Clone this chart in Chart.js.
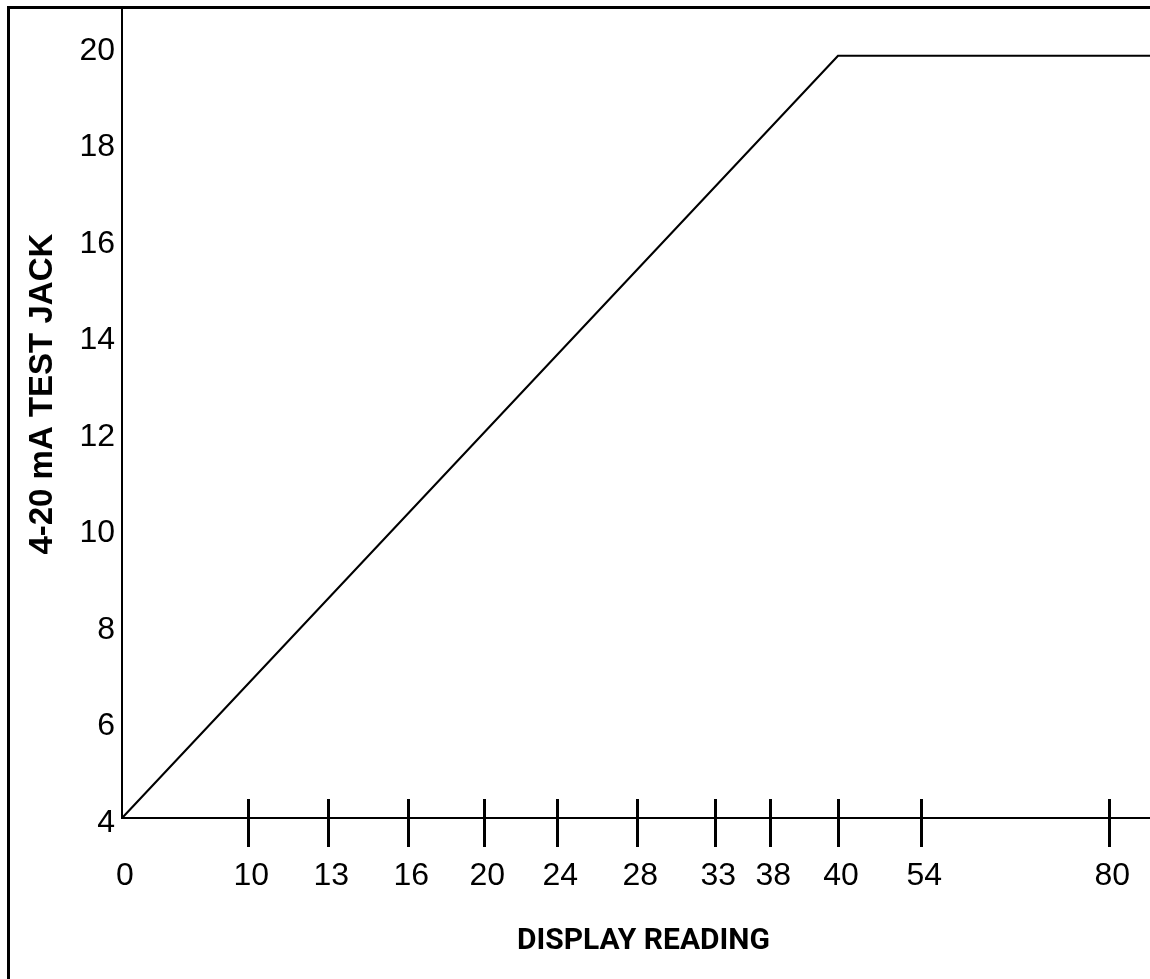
<!DOCTYPE html>
<html>
<head>
<meta charset="utf-8">
<title>4-20 mA test jack vs display reading</title>
<script src="https://cdn.jsdelivr.net/npm/chart.js@4"></script>
<style>
  html, body { margin: 0; padding: 0; background: #fff; overflow: hidden; }
  #wrap { position: relative; width: 1150px; height: 979px; overflow: hidden; }
  #chart { display: block; }
  /* frame round the figure, only left and top edges show */
  #frame { position: absolute; left: 7px; top: 6px; width: 2000px; height: 2000px;
           border-left: 3px solid #000; border-top: 3px solid #000; pointer-events: none; }
</style>
</head>
<body>
<div id="wrap">
  <canvas id="chart" width="1150" height="979"></canvas>
  <div id="frame"></div>
</div>
<script>
// display readings printed under the ticks, and where each tick sits
// along the (uneven) printed axis, which runs 0 .. axisEnd
const tickLabels = ['0', '10', '13', '16', '20', '24', '28', '33', '38', '40', '54', '80'];
const tickAt = [0, 12.63, 20.63, 28.63, 36.23, 43.53, 51.53, 59.33, 64.83, 71.6, 79.93, 98.73];
const axisEnd = 102.8;

// mA axis
const mATicks = [4, 6, 8, 10, 12, 14, 16, 18, 20];
const mATop = 20.81;

// the curve: ramps from reading 0 up to reading 40, then stays flat to the edge
const curveAt = [0, 71.6, 102.8];
const curveMA = [4, 19.8, 19.8];

const numFont = { family: "'Liberation Sans', Arial, sans-serif", size: 32 };

const setTicks = values => scale => {
    scale.ticks = values.map(v => ({ value: v }));
};
const noPad = scale => {
    scale.paddingLeft = 0;
    scale.paddingRight = 0;
    scale.paddingTop = 0;
    scale.paddingBottom = 0;
};
// no tick mark at the origin, only its label
const tickInk = c => (c.index === 0 ? 'rgba(0,0,0,0)' : '#000');

new Chart(document.getElementById('chart'), {
    type: 'line',
    data: {
        datasets: [{
            data: curveAt.map((x, i) => ({ x, y: curveMA[i] })),
            borderColor: '#000',
            borderWidth: 2.2,
            pointRadius: 0,
            tension: 0,
            fill: false
        }]
    },
    options: {
        responsive: false,
        animation: false,
        layout: { padding: { left: 0, top: 7, right: 0, bottom: 0 } },
        plugins: { legend: { display: false }, tooltip: { enabled: false } },
        scales: {
            x: {
                type: 'linear',
                position: 'bottom',
                min: 0,
                max: axisEnd,
                afterBuildTicks: setTicks(tickAt),
                afterFit: s => { s.height = 161; noPad(s); },
                grid: { drawOnChartArea: false, drawTicks: true, tickLength: 29, color: '#000', tickColor: tickInk, lineWidth: 3 },
                border: { display: true, color: '#000', width: 2 },
                ticks: {
                    autoSkip: false,
                    maxRotation: 0,
                    padding: 10,
                    labelOffset: 3,
                    color: '#000',
                    font: numFont,
                    callback: (v, i) => tickLabels[i]
                },
                title: {
                    display: true,
                    text: '  DISPLAY READING',
                    color: '#000',
                    padding: { top: 0, bottom: 20 },
                    font: { family: "Roboto, 'DejaVu Sans Condensed', sans-serif", size: 30, weight: 'bold' }
                }
            },
            // same ticks again, sitting on the mA=4 line and pointing up
            xUp: {
                axis: 'x',
                type: 'linear',
                position: { y: 4 },
                min: 0,
                max: axisEnd,
                afterBuildTicks: setTicks(tickAt),
                afterFit: noPad,
                grid: { drawOnChartArea: false, drawTicks: true, tickLength: -19, color: '#000', tickColor: tickInk, lineWidth: 3 },
                border: { display: false },
                ticks: { display: false }
            },
            y: {
                type: 'linear',
                position: 'left',
                min: 4,
                max: mATop,
                afterBuildTicks: setTicks(mATicks),
                afterFit: s => { s.width = 122; noPad(s); },
                grid: { drawOnChartArea: false, drawTicks: false },
                border: { display: true, color: '#000', width: 2 },
                ticks: { padding: 7, labelOffset: 5, color: '#000', font: numFont },
                title: {
                    display: true,
                    text: '    4-20 mA TEST JACK',
                    color: '#000',
                    padding: { top: 23, bottom: 0 },
                    font: { family: "'Liberation Sans', Arial, sans-serif", size: 33, weight: 'bold' }
                }
            }
        }
    }
});
</script>
</body>
</html>
